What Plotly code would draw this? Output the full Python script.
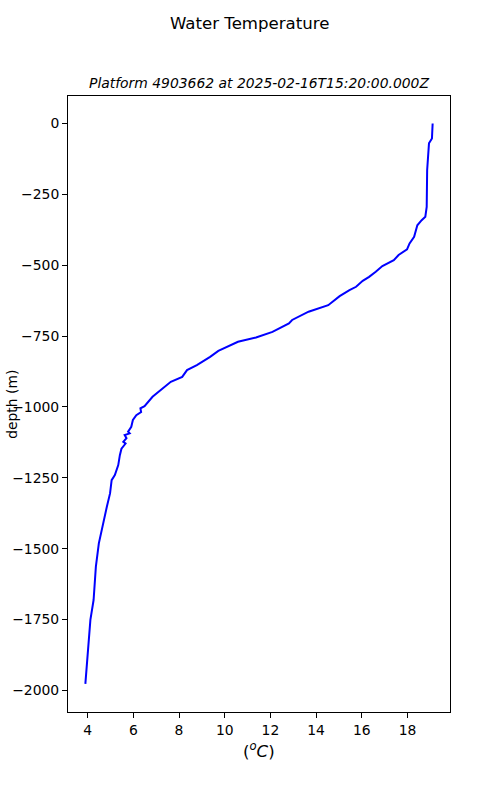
import plotly.graph_objects as go

# Temperature (degC) and depth (m, negative downward)
temperature = [19.10, 19.07, 18.94, 18.90, 18.86, 18.84, 18.78, 18.62, 18.43, 18.29,
               18.09, 17.98, 17.61, 17.40, 17.18, 16.90, 16.61, 16.32, 16.04, 15.75,
               15.46, 15.03, 14.53, 14.24, 13.67, 12.95, 12.81, 12.09, 11.37, 10.58,
               9.72, 9.36, 8.78, 8.35, 8.14, 7.64, 7.27, 6.84, 6.49, 6.31,
               6.34, 6.13, 5.98, 5.91, 5.77, 5.84, 5.62, 5.70, 5.56, 5.66,
               5.48, 5.41, 5.34, 5.19, 5.05, 4.98, 4.84, 4.70, 4.56, 4.49,
               4.36, 4.26, 4.12, 4.02, 3.90]
depth = [0, -53, -70, -120, -165, -294, -329, -341, -359, -400,
         -423, -444, -464, -482, -492, -503, -523, -541, -555, -576,
         -588, -609, -641, -649, -664, -693, -705, -735, -755, -770,
         -802, -823, -852, -870, -894, -911, -934, -964, -997, -1005,
         -1018, -1029, -1046, -1070, -1087, -1093, -1099, -1110, -1123, -1129,
         -1147, -1170, -1205, -1240, -1258, -1305, -1352, -1405, -1458, -1481,
         -1563, -1681, -1751, -1846, -1977]

x_ticks = [4, 6, 8, 10, 12, 14, 16, 18]
y_ticks = [0, -250, -500, -750, -1000, -1250, -1500, -1750, -2000]
y_tick_text = ["0" if v == 0 else "\u2212" + str(abs(v)) for v in y_ticks]

title = "Water Temperature"
subtitle = "Platform 4903662 at 2025-02-16T15:20:00.000Z"

fig = go.Figure()
fig.add_trace(go.Scatter(x=temperature, y=depth, mode="lines",
                         line=dict(color="blue", width=2), showlegend=False))

axis_common = dict(showgrid=False, zeroline=False, showline=True, linecolor="black",
                   linewidth=1, mirror=True, ticks="outside", ticklen=5,
                   tickcolor="black", tickwidth=1,
                   tickfont=dict(family="DejaVu Sans", size=13.9, color="black"))

fig.update_layout(
    width=500, height=800,
    margin=dict(l=63, r=50, t=96, b=88),
    paper_bgcolor="white", plot_bgcolor="white",
    font=dict(family="DejaVu Sans", color="black"),
    xaxis=dict(range=[3.14, 19.86], tickvals=x_ticks, **axis_common),
    yaxis=dict(range=[-2076, 97], tickvals=y_ticks, ticktext=y_tick_text, **axis_common),
    annotations=[
        dict(text=title, xref="paper", yref="paper", x=0.475, y=1.117,
             xanchor="center", yanchor="middle", showarrow=False,
             font=dict(size=16.6, family="DejaVu Sans")),
        dict(text="<i>" + subtitle + "</i>", xref="paper", yref="paper", x=0.5, y=1.021,
             xanchor="center", yanchor="middle", showarrow=False,
             font=dict(size=13.9, family="DejaVu Sans")),
        dict(text="(<i><sup>o</sup>C</i>)", xref="paper", yref="paper", x=0.5, y=-0.062,
             xanchor="center", yanchor="middle", showarrow=False,
             font=dict(size=16.6, family="DejaVu Sans")),
        dict(text="depth (m)", xref="paper", yref="paper", x=-0.147, y=0.5,
             xanchor="center", yanchor="middle", showarrow=False, textangle=-90,
             font=dict(size=13.9, family="DejaVu Sans")),
    ],
)

fig.write_html("out.html", config={"displayModeBar": False},
               post_script="document.body.style.margin='0px';")
